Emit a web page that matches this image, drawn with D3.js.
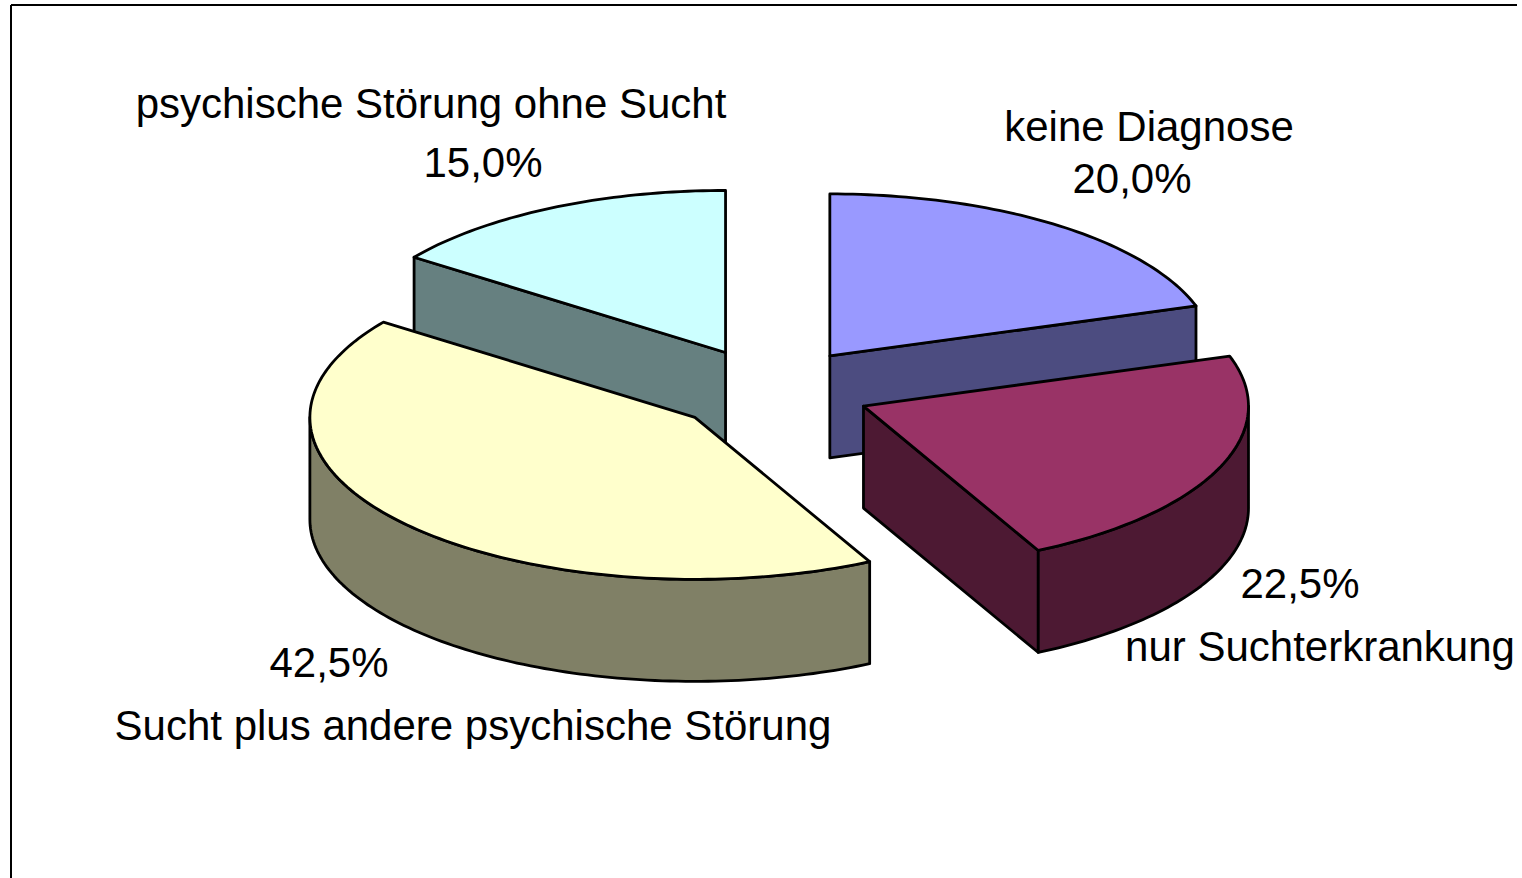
<!DOCTYPE html>
<html lang="de">
<head>
  <meta charset="UTF-8">
  <style>
    html, body { margin: 0; padding: 0; background: #fff; }
    svg { display: block; }
    .face { stroke: #000; stroke-width: 2.8; stroke-linejoin: round; }
    .label { font-family: "Liberation Sans", Arial, sans-serif; font-size: 42px; fill: #000; text-anchor: middle; }
  </style>
  <script src="https://d3js.org/d3.v7.min.js"></script>
</head>
<body>
  <svg width="1522" height="878" id="chart"></svg>

  <script>
    // data, clockwise from 12 o'clock
    const categories = ["keine Diagnose", "nur Suchterkrankung",
                        "Sucht plus andere psychische Störung", "psychische Störung ohne Sucht"];
    const values = [20.0, 22.5, 42.5, 15.0];
    const topColors = ["#9999FF", "#993366", "#FFFFCC", "#CCFFFF"];
    const sideColors = ["#4C4C80", "#4D1933", "#808066", "#668080"];

    // label layout: x centre, baselines for name and percent
    const labelPos = [
      { nx: 1149, ny: 141, px: 1132, py: 193 },
      { nx: 1320, ny: 661, px: 1300, py: 598 },
      { nx: 473,  ny: 740, px: 329,  py: 677 },
      { nx: 431,  ny: 118, px: 483,  py: 177 }
    ];

    const cx = 771, cy = 390, rx = 385, ry = 162, depth = 102, explode = 0.26;

    const svg = d3.select("#chart");

    // frame lines
    svg.append("line").attr("x1", 11).attr("y1", 5).attr("x2", 1517).attr("y2", 5)
      .attr("stroke", "#000").attr("stroke-width", 2);
    svg.append("line").attr("x1", 11).attr("y1", 5).attr("x2", 11).attr("y2", 878)
      .attr("stroke", "#000").attr("stroke-width", 2);

    const x = d3.scaleLinear().domain([-1, 1]).range([cx - rx, cx + rx]);
    const y = d3.scaleLinear().domain([-1, 1]).range([cy - ry, cy + ry]);

    const arcs = d3.pie().sort(null).value(d => d)(values);
    const total = d3.sum(values);
    const fmt = d3.formatLocale({ decimal: ",", thousands: ".", grouping: [3], currency: ["", "€"] }).format(".1f");

    // projected point on the ellipse, with explode offset
    function pt(a, r, off, dz) {
      return [x(off[0] + r * Math.sin(a)), y(off[1] - r * Math.cos(a)) + (dz || 0)];
    }
    function rim(a0, a1, off, dz) {
      const n = Math.max(2, Math.ceil(Math.abs(a1 - a0) / 0.02));
      return d3.range(n + 1).map(i => pt(a0 + (a1 - a0) * i / n, 1, off, dz));
    }
    const line = d3.line().curve(d3.curveLinear);

    const order = [0, 3, 2, 1]; // back to front
    order.forEach(i => {
      const a = arcs[i];
      const mid = (a.startAngle + a.endAngle) / 2;
      const off = [explode * Math.sin(mid), -explode * Math.cos(mid)];
      const g = svg.append("g");
      const apex = pt(0, 0, off), apexD = pt(0, 0, off, depth);

      // radial side faces
      if (Math.cos(a.startAngle - Math.PI / 2) < -1e-6) {
        const r0 = pt(a.startAngle, 1, off), r0d = pt(a.startAngle, 1, off, depth);
        g.append("path").attr("class", "face").attr("fill", sideColors[i])
          .attr("d", line([apex, r0, r0d, apexD]) + "Z");
      }
      if (Math.cos(a.endAngle + Math.PI / 2) < -1e-6) {
        const r1 = pt(a.endAngle, 1, off), r1d = pt(a.endAngle, 1, off, depth);
        g.append("path").attr("class", "face").attr("fill", sideColors[i])
          .attr("d", line([apex, r1, r1d, apexD]) + "Z");
      }

      // outer wall (front half only)
      const lo = Math.max(a.startAngle, Math.PI / 2), hi = Math.min(a.endAngle, 3 * Math.PI / 2);
      if (hi > lo) {
        const pts = rim(lo, hi, off, 0).concat(rim(hi, lo, off, depth));
        g.append("path").attr("class", "face").attr("fill", sideColors[i])
          .attr("d", line(pts) + "Z");
      }

      // top face
      g.append("path").attr("class", "face").attr("fill", topColors[i])
        .attr("d", line([apex].concat(rim(a.startAngle, a.endAngle, off, 0))) + "Z");
    });

    // labels
    categories.forEach((c, i) => {
      const p = labelPos[i];
      svg.append("text").attr("class", "label").attr("x", p.nx).attr("y", p.ny).text(c);
      svg.append("text").attr("class", "label").attr("x", p.px).attr("y", p.py)
        .text(fmt(values[i] / total * 100) + "%");
    });
  </script>
</body>
</html>
